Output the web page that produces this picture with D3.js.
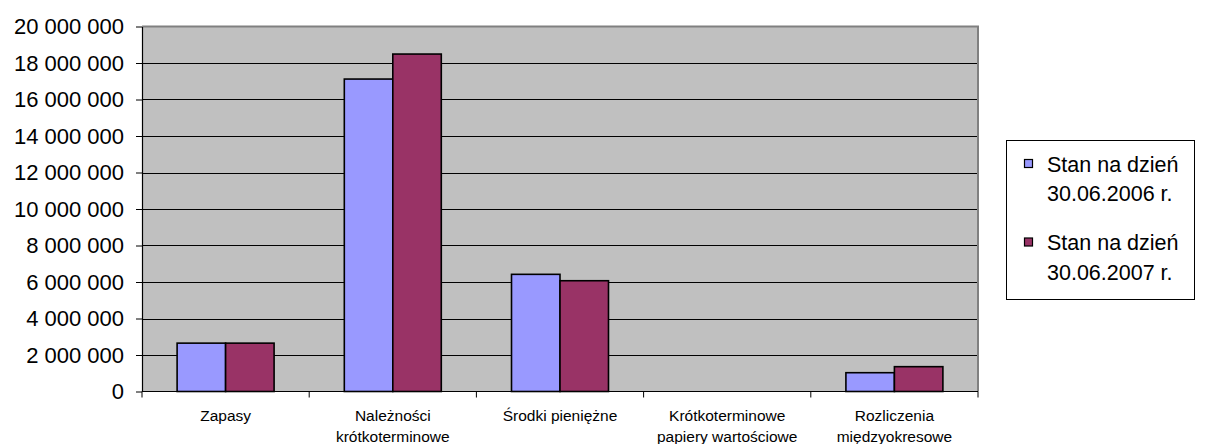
<!DOCTYPE html>
<html>
<head>
<meta charset="utf-8">
<script src="https://cdn.jsdelivr.net/npm/d3@7"></script>
<style>
  html, body { margin: 0; padding: 0; background: #ffffff; }
  svg { display: block; font-family: Arial, "Liberation Sans", sans-serif; }
</style>
</head>
<body>
<svg id="chart" width="1205" height="444"></svg>
<script>
const categories = [
  ["Zapasy"],
  ["Należności", "krótkoterminowe"],
  ["Środki pieniężne"],
  ["Krótkoterminowe", "papiery wartościowe"],
  ["Rozliczenia", "międzyokresowe"]
];
const seriesNames = [
  ["Stan na dzień", "30.06.2006 r."],
  ["Stan na dzień", "30.06.2007 r."]
];
const values2006 = [2650000, 17120000, 6420000, 0, 1030000];
const values2007 = [2650000, 18490000, 6070000, 0, 1360000];
const yTicks = [0, 2000000, 4000000, 6000000, 8000000, 10000000, 12000000, 14000000, 16000000, 18000000, 20000000];
const colors = ["#9999ff", "#993366"];

const svg = d3.select("#chart");
const plot = { left: 142, right: 978, top: 26.5, bottom: 391.5 };

const series = [values2006, values2007];
const catIdx = categories.map((c, i) => i);

const x0 = d3.scaleBand().domain(catIdx).range([plot.left, plot.right]).padding(0);
const x1 = d3.scaleBand().domain([0, 1]).range([0, x0.bandwidth()]).paddingInner(0).paddingOuter(0.724);
const y = d3.scaleLinear().domain([0, 20000000]).range([plot.bottom, plot.top]);

// plot background
svg.append("rect")
  .attr("x", plot.left).attr("y", plot.top)
  .attr("width", plot.right - plot.left).attr("height", plot.bottom - plot.top)
  .attr("fill", "#c0c0c0");

// gridlines
svg.append("g").selectAll("line")
  .data(yTicks.filter(t => t > 0 && t < 20000000))
  .join("line")
  .attr("x1", plot.left).attr("x2", plot.right)
  .attr("y1", d => Math.round(y(d)) + 0.5).attr("y2", d => Math.round(y(d)) + 0.5)
  .attr("stroke", "#000").attr("stroke-width", 1);

// plot border top/right grey
svg.append("path")
  .attr("d", `M${plot.left},${plot.top}H${plot.right}V${plot.bottom}`)
  .attr("fill", "none").attr("stroke", "#808080").attr("stroke-width", 2);

// bars
const groups = svg.append("g").selectAll("g")
  .data(catIdx)
  .join("g")
  .attr("transform", d => `translate(${x0(d)},0)`);

groups.selectAll("rect")
  .data(ci => series.map((s, si) => ({ si, v: s[ci] })).filter(d => d.v > 0))
  .join("rect")
  .attr("x", d => x1(d.si))
  .attr("y", d => y(d.v))
  .attr("width", x1.bandwidth())
  .attr("height", d => y(0) - y(d.v))
  .attr("fill", d => colors[d.si])
  .attr("stroke", "#000")
  .attr("stroke-width", 1.6);

// y axis
const yAxis = d3.axisLeft(y)
  .tickValues(yTicks)
  .tickSize(6)
  .tickSizeOuter(0)
  .tickFormat(d => d3.format(",")(d).replace(/,/g, " "));
const gy = svg.append("g").attr("transform", `translate(${plot.left},0)`).call(yAxis);
gy.select(".domain").attr("stroke", "#000").attr("stroke-width", 1.2);
gy.selectAll(".tick line").attr("stroke", "#000");
gy.selectAll(".tick text")
  .attr("font-size", "22px")
  .attr("font-family", "Arial, 'Liberation Sans', sans-serif")
  .attr("fill", "#000")
  .attr("x", -18);

// x axis
const xTickPos = catIdx.map(i => x0(i)).concat([plot.right]);
const gx = svg.append("g");
gx.append("line")
  .attr("x1", plot.left).attr("x2", plot.right)
  .attr("y1", plot.bottom).attr("y2", plot.bottom)
  .attr("stroke", "#000").attr("stroke-width", 1.2);
gx.selectAll("line.tk")
  .data(xTickPos)
  .join("line").attr("class", "tk")
  .attr("x1", d => d).attr("x2", d => d)
  .attr("y1", plot.bottom).attr("y2", plot.bottom + 6)
  .attr("stroke", "#000");

const labels = svg.append("g").selectAll("text")
  .data(catIdx)
  .join("text")
  .attr("x", d => x0(d) + x0.bandwidth() / 2)
  .attr("y", 420.5)
  .attr("text-anchor", "middle")
  .attr("font-size", "15.5px")
  .attr("fill", "#000");
labels.selectAll("tspan")
  .data(d => categories[d].map((t, i) => ({ t, i, d })))
  .join("tspan")
  .attr("x", d => x0(d.d) + x0.bandwidth() / 2)
  .attr("dy", d => d.i === 0 ? 0 : 21)
  .text(d => d.t);

// legend
const lg = svg.append("g");
lg.append("rect")
  .attr("x", 1006.5).attr("y", 140.5).attr("width", 188).attr("height", 159)
  .attr("fill", "#fff").attr("stroke", "#000").attr("stroke-width", 1);
const items = lg.selectAll("g.item")
  .data(seriesNames)
  .join("g").attr("class", "item")
  .attr("transform", (d, i) => `translate(0,${i * 78.5})`);
items.append("rect")
  .attr("x", 1024.5).attr("y", 159.5).attr("width", 8).attr("height", 8)
  .attr("fill", (d, i) => colors[i]).attr("stroke", "#000").attr("stroke-width", 1.2);
items.append("text")
  .attr("font-size", "21.5px").attr("fill", "#000")
  .selectAll("tspan")
  .data(d => d)
  .join("tspan")
  .attr("x", 1047)
  .attr("y", (d, i) => 171.5 + i * 29.5)
  .text(d => d);
</script>
</body>
</html>
